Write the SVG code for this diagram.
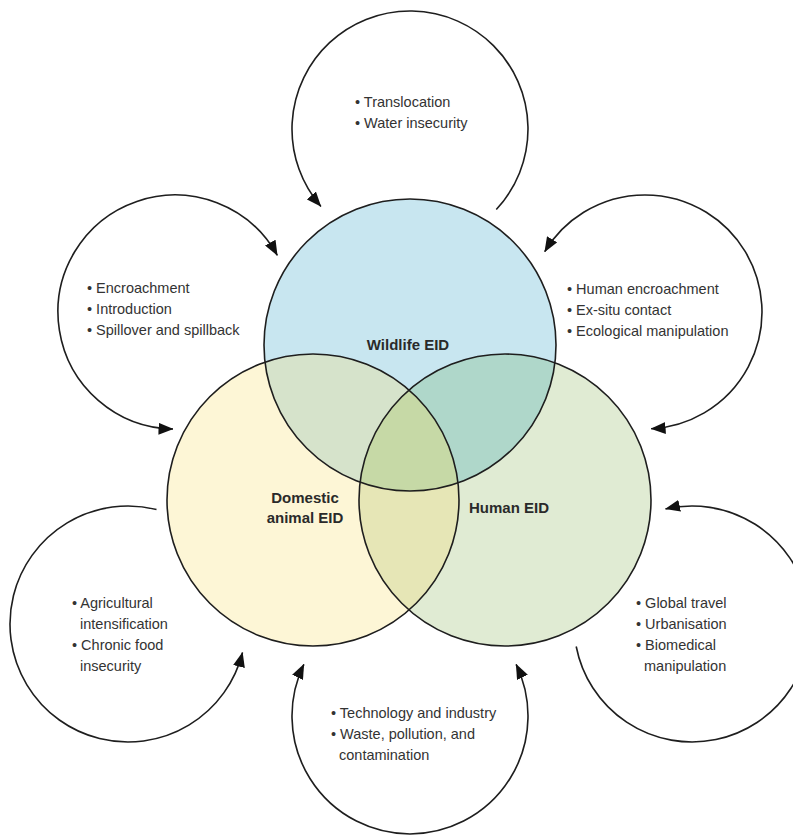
<svg xmlns="http://www.w3.org/2000/svg" width="793" height="836" viewBox="0 0 793 836">
<style>
.t{font-family:"Liberation Sans",Arial,sans-serif;font-size:14.5px;fill:#333}
.b{font-family:"Liberation Sans",Arial,sans-serif;font-size:15px;font-weight:bold;fill:#2a2a2a;text-anchor:middle}
.ring{fill:none;stroke:#1e1e1e;stroke-width:1.6}
.arc{fill:none;stroke:#1e1e1e;stroke-width:1.6}
</style>
<defs>
<marker id="ah" viewBox="0 0 15 12" refX="14.5" refY="6" markerWidth="15" markerHeight="12" orient="auto-start-reverse" markerUnits="userSpaceOnUse">
<path d="M0,0 L15,6 L0,12 z" fill="#111"/>
</marker>
<clipPath id="cW"><circle cx="410" cy="345" r="146"/></clipPath>
<clipPath id="cD"><circle cx="313" cy="500" r="146"/></clipPath>
<clipPath id="cH"><circle cx="505" cy="500" r="146"/></clipPath>
</defs>
<rect width="793" height="836" fill="#fff"/>

<g id="venn-fills">
<circle cx="313" cy="500" r="146" fill="#fdf6d6"/>
<circle cx="505" cy="500" r="146" fill="#e0ebd3"/>
<circle cx="410" cy="345" r="146" fill="#c8e6f0"/>
<circle cx="410" cy="345" r="146" fill="#d6e3cb" clip-path="url(#cD)"/>
<circle cx="410" cy="345" r="146" fill="#afd7ca" clip-path="url(#cH)"/>
<circle cx="313" cy="500" r="146" fill="#e6e6b6" clip-path="url(#cH)"/>
<g clip-path="url(#cH)"><circle cx="410" cy="345" r="146" fill="#c6d9a6" clip-path="url(#cD)"/></g>
</g>

<g id="wildlife-eid">
<circle class="ring" cx="410" cy="345" r="146"/>
<text class="b" x="408" y="350">Wildlife EID</text>
</g>
<g id="domestic-eid">
<circle class="ring" cx="313" cy="500" r="146"/>
<text class="b" x="305" y="503">Domestic</text>
<text class="b" x="305" y="523">animal EID</text>
</g>
<g id="human-eid">
<circle class="ring" cx="505" cy="500" r="146"/>
<text class="b" x="509" y="513">Human EID</text>
</g>

<g id="connectors">
<path class="arc" d="M496.3,209.5 A118,118 0 1 0 320.9,206.4" marker-end="url(#ah)"/>
<path class="arc" d="M277.3,255.3 A117,117 0 1 0 173,429" marker-start="url(#ah)" marker-end="url(#ah)"/>
<path class="arc" d="M544.7,251.7 A117,117 0 1 1 651.1,428.8" marker-start="url(#ah)" marker-end="url(#ah)"/>
<path class="arc" d="M156.5,509.5 A118,118 0 1 0 242.5,652.5" marker-end="url(#ah)"/>
<path class="arc" d="M576.2,646.5 A118,118 0 1 0 665.5,509" marker-end="url(#ah)"/>
<path class="arc" d="M303.9,664.3 A118,118 0 1 0 516.1,664.3" marker-start="url(#ah)" marker-end="url(#ah)"/>
</g>

<g id="driver-top">
<text class="t" x="355" y="107">• Translocation</text>
<text class="t" x="355" y="128">• Water insecurity</text>
</g>
<g id="driver-top-left">
<text class="t" x="87" y="293">• Encroachment</text>
<text class="t" x="87" y="314">• Introduction</text>
<text class="t" x="87" y="335">• Spillover and spillback</text>
</g>
<g id="driver-top-right">
<text class="t" x="567" y="294">• Human encroachment</text>
<text class="t" x="567" y="315">• Ex-situ contact</text>
<text class="t" x="567" y="336">• Ecological manipulation</text>
</g>
<g id="driver-bottom-left">
<text class="t" x="72" y="608">• Agricultural</text>
<text class="t" x="80" y="629">intensification</text>
<text class="t" x="72" y="650">• Chronic food</text>
<text class="t" x="80" y="671">insecurity</text>
</g>
<g id="driver-bottom-right">
<text class="t" x="636" y="608">• Global travel</text>
<text class="t" x="636" y="629">• Urbanisation</text>
<text class="t" x="636" y="650">• Biomedical</text>
<text class="t" x="644" y="671">manipulation</text>
</g>
<g id="driver-bottom">
<text class="t" x="331" y="718">• Technology and industry</text>
<text class="t" x="331" y="739">• Waste, pollution, and</text>
<text class="t" x="339" y="760">contamination</text>
</g>
</svg>
